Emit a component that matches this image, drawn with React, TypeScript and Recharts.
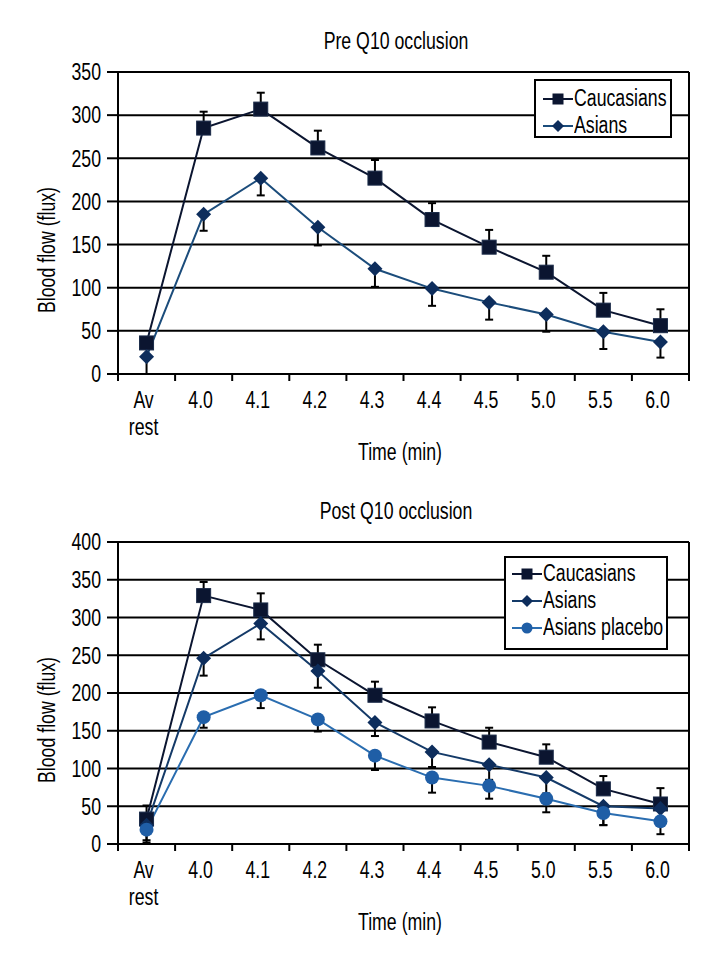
import React from "react";
import { LineChart, Line, XAxis, YAxis, CartesianGrid, ErrorBar, ReferenceLine } from "recharts";

// x categories (time, min)
const categories = ["Av rest", "4.0", "4.1", "4.2", "4.3", "4.4", "4.5", "5.0", "5.5", "6.0"];

// Pre Q10 occlusion
const preCaucasians = [36, 285, 307, 262, 227, 179, 147, 118, 74, 56];
const preCaucasiansErr = [4, 19, 19, 20, 21, 19, 20, 19, 20, 19];
const preAsians = [20, 185, 227, 170, 122, 99, 83, 69, 49, 37];
const preAsiansErr = [20, 19, 20, 21, 21, 20, 20, 20, 20, 18];

// Post Q10 occlusion
const postCaucasians = [33, 329, 310, 244, 197, 163, 135, 115, 73, 53];
const postCaucasiansErr = [18, 18, 22, 20, 18, 18, 19, 17, 17, 21];
const postAsians = [25, 246, 292, 229, 161, 122, 105, 88, 50, 47];
const postAsiansErr = [20, 23, 21, 22, 18, 20, 20, 21, 25, 12];
const postPlacebo = [19, 168, 197, 165, 117, 88, 77, 60, 41, 30];
const postPlaceboErr = [17, 14, 17, 16, 19, 20, 17, 18, 16, 17];

const preTicks = [0, 50, 100, 150, 200, 250, 300, 350];
const postTicks = [0, 50, 100, 150, 200, 250, 300, 350, 400];

// no condensed face installed, so Liberation Sans is squeezed horizontally
const FONT = '"Liberation Sans", Arial, sans-serif';
const FS = 23;
const SQ = 0.77;
const CAUC = "#0b1530";
const DIAMOND = "#0d2d5c";
const PLACEBO = "#1f5ea6";

// ticks on the x axis: band edges at integers, labels at half steps
const xTicks = [0, ...categories.flatMap((_, i) => [i + 0.5, i + 1])];

const XTick = (props: any) => {
  const { x, y, payload } = props;
  const v = payload.value;
  if (Number.isInteger(v)) {
    return <line x1={x} y1={y} x2={x} y2={y + 7} stroke="#000" strokeWidth={2} />;
  }
  const parts = categories[Math.floor(v)].split(" ");
  return (
    <text
      transform={`translate(${x - 3},${y + 34}) scale(${SQ},1)`}
      textAnchor="middle"
      fontSize={FS}
      fontFamily={FONT}
      fill="#000"
    >
      {parts.map((p, k) => (
        <tspan key={k} x={0} dy={k === 0 ? 0 : 27}>{p}</tspan>
      ))}
    </text>
  );
};

const YTick = (props: any) => {
  const { x, y, payload } = props;
  return (
    <text
      transform={`translate(${x},${y}) scale(${SQ},1)`}
      textAnchor="end"
      dy="0.36em"
      fontSize={FS}
      fontFamily={FONT}
      fill="#000"
    >
      {payload.value}
    </text>
  );
};

const squareDot = (size: number, fill: string) => (props: any) => {
  const { cx, cy, index } = props;
  if (cx == null || cy == null) return <g key={`s-${index}`} />;
  return <rect key={`s-${index}`} x={cx - size / 2} y={cy - size / 2} width={size} height={size} fill={fill} stroke="#1a2a48" strokeWidth={1} />;
};

const diamondDot = (size: number, fill: string) => (props: any) => {
  const { cx, cy, index } = props;
  if (cx == null || cy == null) return <g key={`d-${index}`} />;
  const h = size / 2;
  return <polygon key={`d-${index}`} points={`${cx},${cy - h} ${cx + h},${cy} ${cx},${cy + h} ${cx - h},${cy}`} fill={fill} />;
};

const circleDot = (r: number, fill: string) => (props: any) => {
  const { cx, cy, index } = props;
  if (cx == null || cy == null) return <g key={`c-${index}`} />;
  return <circle key={`c-${index}`} cx={cx} cy={cy} r={r} fill={fill} />;
};

const preData = categories.map((c, i) => ({
  x: i + 0.5,
  label: c,
  cauc: preCaucasians[i],
  caucErr: [0, preCaucasiansErr[i]],
  asian: preAsians[i],
  asianErr: [preAsiansErr[i], 0],
}));

const postData = categories.map((c, i) => ({
  x: i + 0.5,
  label: c,
  cauc: postCaucasians[i],
  caucErr: [0, postCaucasiansErr[i]],
  asian: postAsians[i],
  asianErr: [postAsiansErr[i], 0],
  placebo: postPlacebo[i],
  placeboErr: [postPlaceboErr[i], 0],
}));

interface SeriesDef {
  key: string;
  name: string;
  line: string;
  marker: string;
  shape: "square" | "diamond" | "circle";
}

const preSeries: SeriesDef[] = [
  { key: "cauc", name: "Caucasians", line: CAUC, marker: CAUC, shape: "square" },
  { key: "asian", name: "Asians", line: "#1b4c7b", marker: DIAMOND, shape: "diamond" },
];

const postSeries: SeriesDef[] = [
  { key: "cauc", name: "Caucasians", line: CAUC, marker: CAUC, shape: "square" },
  { key: "asian", name: "Asians", line: "#143a68", marker: DIAMOND, shape: "diamond" },
  { key: "placebo", name: "Asians placebo", line: "#2a6db0", marker: PLACEBO, shape: "circle" },
];

const dotFor = (s: SeriesDef) =>
  s.shape === "square" ? squareDot(14, s.marker) : s.shape === "diamond" ? diamondDot(15, s.marker) : circleDot(7, s.marker);

const LegendMarker = ({ s }: { s: SeriesDef }) => (
  <svg width={30} height={16} style={{ display: "block", flex: "none" }}>
    <line x1={0} y1={8} x2={30} y2={8} stroke={s.line} strokeWidth={2} />
    {s.shape === "square" && <rect x={9.5} y={2.5} width={11} height={11} fill={s.marker} />}
    {s.shape === "diamond" && <polygon points="15,2 21,8 15,14 9,8" fill={s.marker} />}
    {s.shape === "circle" && <circle cx={15} cy={8} r={5.5} fill={s.marker} />}
  </svg>
);

const LegendBox = ({ series, left, top, width, height, padTop, padLeft }: any) => (
  <div
    style={{
      position: "absolute",
      left,
      top,
      width,
      height,
      boxSizing: "border-box",
      border: "2px solid #000",
      background: "#fff",
      paddingTop: padTop,
      paddingLeft: padLeft,
      overflow: "hidden",
    }}
  >
    {series.map((s: SeriesDef) => (
      <div key={s.key} style={{ display: "flex", alignItems: "center", height: 27, whiteSpace: "nowrap" }}>
        <LegendMarker s={s} />
        <span
          style={{
            display: "inline-block",
            marginLeft: 1,
            fontFamily: FONT,
            fontSize: FS,
            lineHeight: "27px",
            color: "#000",
            transform: `scaleX(${SQ})`,
            transformOrigin: "left center",
          }}
        >
          {s.name}
        </span>
      </div>
    ))}
  </div>
);

const labelStyle = (left: number, top: number, rotate = false): React.CSSProperties => ({
  position: "absolute",
  left,
  top,
  transform: `translate(-50%, -50%)${rotate ? " rotate(-90deg)" : ""} scaleX(${SQ})`,
  fontFamily: FONT,
  fontSize: FS,
  lineHeight: 1,
  whiteSpace: "nowrap",
  color: "#000",
});

const Panel = ({ title, data, series, yMax, yTicks, top, legend }: any) => (
  <div style={{ position: "absolute", left: 0, top, width: 720, height: 470 }}>
    <LineChart width={720} height={470} data={data} margin={{ top: 72, right: 31, left: 0, bottom: 16 }}>
      <CartesianGrid horizontal vertical={false} stroke="#000" strokeWidth={2} />
      <XAxis
        dataKey="x"
        type="number"
        domain={[0, categories.length]}
        ticks={xTicks}
        interval={0}
        tick={<XTick />}
        tickLine={false}
        tickSize={0}
        tickMargin={0}
        axisLine={{ stroke: "#000", strokeWidth: 2 }}
        height={80}
      />
      <YAxis
        type="number"
        domain={[0, yMax]}
        ticks={yTicks}
        interval={0}
        width={118}
        tickSize={11}
        tickMargin={6}
        axisLine={{ stroke: "#000", strokeWidth: 2 }}
        tickLine={{ stroke: "#000", strokeWidth: 2 }}
        tick={<YTick />}
      />
      <ReferenceLine x={categories.length} stroke="#000" strokeWidth={2} />
      {series.map((s: SeriesDef) => (
        <Line
          key={s.key}
          type="linear"
          dataKey={s.key}
          name={s.name}
          stroke={s.line}
          strokeWidth={2}
          dot={dotFor(s)}
          activeDot={false}
          isAnimationActive={false}
        >
          <ErrorBar dataKey={`${s.key}Err`} direction="y" width={4} stroke="#000" strokeWidth={2} isAnimationActive={false} />
        </Line>
      ))}
    </LineChart>
    <div style={labelStyle(396, 41)}>{title}</div>
    <div style={labelStyle(400, 452)}>Time (min)</div>
    <div style={labelStyle(47, 250, true)}>Blood flow (flux)</div>
    <LegendBox series={series} {...legend} />
  </div>
);

export default function App() {
  return (
    <div style={{ position: "absolute", left: 0, top: 0, width: 720, height: 960, background: "#fff" }}>
      <Panel
        title="Pre Q10 occlusion"
        data={preData}
        series={preSeries}
        yMax={350}
        yTicks={preTicks}
        top={0}
        legend={{ left: 534, top: 79, width: 138, height: 59, padTop: 4, padLeft: 7 }}
      />
      <Panel
        title="Post Q10 occlusion"
        data={postData}
        series={postSeries}
        yMax={400}
        yTicks={postTicks}
        top={470}
        legend={{ left: 504, top: 86, width: 164, height: 94, padTop: 2, padLeft: 6 }}
      />
    </div>
  );
}
